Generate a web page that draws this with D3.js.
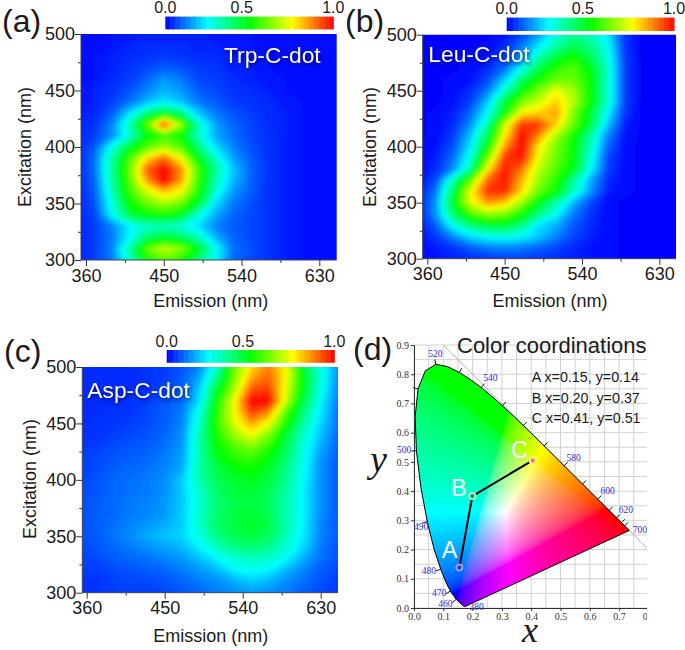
<!DOCTYPE html>
<html>
<head>
<meta charset="utf-8">
<script src="https://cdn.jsdelivr.net/npm/d3@7"></script>
<style>
  body { margin: 0; background: #fff; }
  svg { display: block; }
  text { font-family: "Liberation Sans", Arial, sans-serif; fill: #1a1a1a; }
  .serif { font-family: "Liberation Serif", serif; }
</style>
</head>
<body>
<svg id="figure" width="685" height="650"></svg>
<script>
// emission columns of every map (nm), rows run from 300 nm up to 500 nm in steps of 10
var emissionGrid = [350, 370, 390, 410, 430, 450, 470, 490, 510, 530, 550, 570, 590, 610, 630, 650];
var excitationGrid = [300, 310, 320, 330, 340, 350, 360, 370, 380, 390, 400, 410, 420, 430, 440, 450, 460, 470, 480, 490, 500];

var trpValues = [
  [.03, .06, .12, .30, .50, .58, .52, .38, .25, .10, .07, .05, .03, .02, .01, .01],
  [.03, .06, .13, .34, .60, .70, .64, .48, .27, .11, .08, .05, .03, .02, .01, .01],
  [.03, .06, .12, .25, .40, .45, .42, .32, .18, .10, .07, .05, .03, .02, .01, .01],
  [.03, .06, .13, .24, .30, .31, .28, .22, .13, .09, .07, .05, .03, .02, .01, .01],
  [.03, .07, .25, .43, .50, .52, .48, .28, .17, .10, .07, .05, .03, .02, .01, .01],
  [.03, .08, .28, .50, .60, .66, .60, .45, .22, .12, .08, .05, .03, .02, .01, .01],
  [.03, .09, .31, .55, .70, .80, .74, .52, .28, .15, .09, .05, .03, .02, .01, .01],
  [.03, .10, .34, .58, .84, 1.0, .84, .55, .33, .18, .10, .05, .03, .02, .01, .01],
  [.03, .11, .35, .60, .90, 1.0, .86, .57, .35, .20, .10, .05, .03, .02, .01, .01],
  [.03, .11, .34, .57, .78, .90, .74, .49, .30, .16, .09, .05, .03, .02, .01, .01],
  [.03, .09, .27, .46, .58, .66, .58, .38, .22, .13, .08, .05, .03, .02, .01, .01],
  [.03, .06, .14, .28, .48, .56, .50, .30, .17, .11, .07, .05, .03, .02, .01, .01],
  [.03, .05, .13, .32, .60, .95, .66, .32, .16, .10, .07, .04, .03, .02, .01, .01],
  [.02, .04, .09, .22, .38, .46, .38, .20, .12, .08, .06, .04, .03, .02, .01, .01],
  [.02, .03, .06, .11, .18, .23, .19, .12, .09, .06, .05, .04, .02, .02, .01, .01],
  [.02, .03, .05, .08, .13, .18, .15, .09, .07, .05, .04, .03, .02, .01, .01, .01],
  [.01, .02, .04, .06, .10, .15, .12, .07, .06, .04, .03, .02, .02, .01, .01, .01],
  [.01, .02, .03, .05, .07, .09, .08, .06, .05, .03, .03, .02, .01, .01, .01, .01],
  [.01, .02, .03, .04, .05, .06, .05, .04, .04, .03, .02, .02, .01, .01, .01, .01],
  [.01, .01, .02, .03, .04, .04, .04, .03, .03, .02, .02, .01, .01, .01, .01, .01],
  [.01, .01, .02, .02, .03, .03, .03, .03, .02, .02, .02, .01, .01, .01, .01, .01]
];

var leuValues = [
  [.01, .02, .03, .04, .05, .06, .06, .05, .04, .03, .02, .01, 0, 0, 0, 0],
  [.01, .03, .05, .09, .12, .13, .12, .10, .07, .04, .02, .01, 0, 0, 0, 0],
  [.01, .06, .14, .22, .26, .27, .25, .20, .13, .07, .03, .01, 0, 0, 0, 0],
  [.01, .10, .27, .39, .45, .46, .38, .22, .17, .09, .04, .01, 0, 0, 0, 0],
  [.02, .15, .40, .57, .65, .62, .52, .38, .26, .12, .05, .01, 0, 0, 0, 0],
  [.02, .15, .47, .72, .85, .80, .65, .47, .33, .18, .07, .01, 0, 0, 0, 0],
  [.02, .12, .42, .74, .95, .96, .78, .60, .50, .31, .15, .03, .01, 0, 0, 0],
  [.01, .08, .33, .60, .90, .98, .82, .64, .54, .35, .17, .04, .01, 0, 0, 0],
  [.01, .04, .14, .34, .76, .98, .88, .68, .58, .47, .26, .06, .01, 0, 0, 0],
  [.01, .03, .11, .28, .62, .95, .98, .73, .60, .50, .28, .07, .01, 0, 0, 0],
  [.01, .02, .08, .23, .50, .85, 1.0, .76, .62, .50, .31, .10, .01, 0, 0, 0],
  [0, .01, .06, .19, .42, .76, 1.0, .86, .66, .52, .34, .13, .02, 0, 0, 0],
  [0, .01, .04, .14, .33, .70, .95, .94, .80, .60, .44, .20, .03, 0, 0, 0],
  [0, .01, .03, .10, .25, .50, .76, .80, .84, .62, .45, .24, .05, 0, 0, 0],
  [0, 0, .02, .06, .20, .44, .62, .70, .80, .68, .50, .30, .06, 0, 0, 0],
  [0, 0, .01, .04, .12, .30, .50, .62, .74, .66, .50, .30, .06, 0, 0, 0],
  [0, 0, .01, .02, .07, .20, .40, .52, .60, .60, .50, .30, .06, 0, 0, 0],
  [0, 0, 0, .01, .04, .11, .26, .42, .54, .58, .48, .30, .06, 0, 0, 0],
  [0, 0, 0, .01, .02, .07, .18, .33, .44, .52, .42, .28, .06, 0, 0, 0],
  [0, 0, 0, 0, .01, .04, .12, .23, .34, .42, .37, .26, .05, 0, 0, 0],
  [0, 0, 0, 0, 0, .02, .07, .16, .28, .36, .32, .23, .05, 0, 0, 0]
];

var aspValues = [
  [.05, .05, .06, .06, .06, .07, .08, .10, .12, .14, .15, .14, .12, .09, .07, .06],
  [.05, .05, .06, .07, .07, .08, .10, .12, .14, .17, .20, .18, .14, .11, .08, .06],
  [.06, .06, .07, .08, .09, .10, .12, .15, .18, .24, .26, .24, .18, .13, .09, .07],
  [.06, .07, .09, .10, .11, .13, .15, .19, .24, .29, .31, .30, .25, .17, .11, .08],
  [.07, .08, .10, .12, .14, .16, .18, .24, .31, .37, .38, .36, .29, .21, .12, .08],
  [.07, .09, .11, .14, .17, .19, .21, .28, .37, .42, .44, .41, .32, .23, .13, .09],
  [.07, .09, .11, .13, .15, .17, .20, .30, .40, .44, .46, .43, .33, .24, .13, .09],
  [.07, .09, .10, .12, .13, .15, .20, .30, .39, .44, .45, .42, .33, .24, .14, .09],
  [.07, .09, .10, .12, .13, .15, .20, .29, .39, .43, .44, .41, .33, .24, .14, .09],
  [.07, .08, .10, .11, .12, .14, .20, .30, .40, .44, .45, .42, .34, .24, .14, .09],
  [.06, .08, .10, .11, .12, .14, .20, .33, .42, .46, .48, .44, .36, .25, .14, .09],
  [.06, .07, .09, .10, .11, .13, .17, .34, .43, .49, .51, .46, .37, .26, .14, .09],
  [.06, .07, .08, .09, .10, .12, .16, .33, .47, .54, .56, .50, .40, .27, .15, .09],
  [.05, .06, .07, .08, .09, .11, .15, .33, .50, .58, .63, .55, .42, .28, .17, .10],
  [.05, .05, .06, .07, .08, .10, .14, .33, .52, .65, .74, .63, .45, .30, .19, .10],
  [.04, .05, .05, .06, .07, .09, .13, .30, .54, .72, .84, .74, .52, .34, .21, .11],
  [.04, .04, .05, .05, .07, .09, .12, .28, .53, .74, .94, .86, .58, .38, .23, .11],
  [.04, .04, .04, .05, .06, .08, .11, .22, .50, .74, 1.0, 1.0, .70, .43, .25, .12],
  [.04, .04, .04, .04, .05, .07, .10, .20, .46, .66, .92, .94, .72, .47, .27, .13],
  [.04, .04, .04, .04, .05, .06, .09, .17, .36, .62, .84, .90, .75, .48, .28, .14],
  [.04, .04, .04, .04, .05, .06, .08, .13, .30, .60, .78, .88, .75, .45, .28, .14]
];

var emissionTicks = [360, 405, 450, 495, 540, 585, 630];
var excitationTicks = [300, 325, 350, 375, 400, 425, 450, 475, 500];
var colorbarLabels = ["0.0", "0.5", "1.0"];

// CIE 1931 spectral locus
var locusNm = [380, 400, 420, 430, 440, 450, 460, 470, 475, 480, 485, 490, 495, 500, 505, 510, 515, 520, 525, 530, 535, 540, 545, 550, 555, 560, 565, 570, 575, 580, 585, 590, 595, 600, 610, 620, 630, 640, 650, 680, 700];
var locusX = [.1741, .1733, .1714, .1689, .1644, .1566, .1440, .1241, .1096, .0913, .0687, .0454, .0235, .0082, .0039, .0139, .0389, .0743, .1142, .1547, .1929, .2296, .2658, .3016, .3373, .3731, .4087, .4441, .4788, .5125, .5448, .5752, .6029, .6270, .6658, .6915, .7079, .7190, .7260, .7347, .7347];
var locusY = [.0050, .0048, .0051, .0069, .0109, .0177, .0297, .0578, .0868, .1327, .2007, .2950, .4127, .5384, .6548, .7502, .8120, .8338, .8262, .8059, .7816, .7543, .7243, .6923, .6589, .6245, .5896, .5547, .5202, .4866, .4544, .4242, .3965, .3725, .3340, .3083, .2920, .2809, .2740, .2653, .2653];

var waveLabels = ["520", "540", "580", "600", "620", "700", "500", "490", "480", "470", "460", "380"];
var waveLabelX = [.073, .261, .545, .661, .723, .771, -.034, .024, .051, .086, .107, .214];
var waveLabelY = [.869, .786, .514, .399, .336, .266, .541, .278, .127, .050, .015, .004];

var pointNames = ["A", "B", "C"];
var pointX = [.155, .199, .405];
var pointY = [.139, .383, .505];
var pointCore = ["#3a3a9a", "#0f9a5a", "#f08a10"];
var pointRing = ["#8fa0ee", "#a8ecc8", "#ffe9a0"];
var coordLines = ["A x=0.15, y=0.14", "B x=0.20, y=0.37", "C x=0.41, y=0.51"];

var svg = d3.select("#figure");

var defs = svg.append("defs");
defs.append("filter").attr("id", "soft")
  .attr("x", "-5%").attr("y", "-5%").attr("width", "110%").attr("height", "110%")
  .append("feGaussianBlur").attr("stdDeviation", 2.2);

var color = d3.scaleLinear()
  .domain([0, .25, .5, .75, 1])
  .range(["#0000ff", "#00ffff", "#00ff00", "#ffff00", "#ff0000"])
  .clamp(true);

var panels = [
  { id: "a", values: trpValues, title: "Trp-C-dot", tag: "(a)", left: 81, right: 336.7, top: 34, bottom: 260,
    x360: 86, x630: 319.3, tagX: 2, tagY: 32, titleX: 224, titleY: 63, barL: 165.3, barR: 333.3, barT: 16.7, barB: 29.3, barText: 13,
    xLabelX: 210.7, xLabelY: 307, yLabelX: 31, yLabelY: 147 },
  { id: "b", values: leuValues, title: "Leu-C-dot", tag: "(b)", left: 422.7, right: 676, top: 34.7, bottom: 258.7,
    x360: 427.3, x630: 659.3, tagX: 345, tagY: 32, titleX: 428.3, titleY: 62, barL: 506.7, barR: 674, barT: 17.7, barB: 31, barText: 14,
    xLabelX: 550, xLabelY: 307, yLabelX: 375.5, yLabelY: 147 },
  { id: "c", values: aspValues, title: "Asp-C-dot", tag: "(c)", left: 82.3, right: 338, top: 367, bottom: 592.7,
    x360: 86.7, x630: 320.7, tagX: 4, tagY: 362, titleX: 87.3, titleY: 397.5, barL: 166.7, barR: 334.3, barT: 350, barB: 362.7, barText: 346.5,
    xLabelX: 210.7, xLabelY: 641.7, yLabelX: 35.5, yLabelY: 479 }
];

panels.forEach(drawPanel);
drawChromaticity();

function drawPanel(p) {
  var x = d3.scaleLinear().domain([360, 630]).range([p.x360, p.x630]);
  var y = d3.scaleLinear().domain([300, 500]).range([p.bottom, p.top]);

  defs.append("clipPath").attr("id", "clip-" + p.id)
    .append("rect")
    .attr("x", p.left).attr("y", p.top)
    .attr("width", p.right - p.left).attr("height", p.bottom - p.top);

  var g = svg.append("g").attr("clip-path", "url(#clip-" + p.id + ")");
  var inner = g.append("g").attr("filter", "url(#soft)");

  inner.append("rect")
    .attr("x", p.left - 10).attr("y", p.top - 10)
    .attr("width", p.right - p.left + 20).attr("height", p.bottom - p.top + 20)
    .attr("fill", color(0));

  // grid cell centres sit at index + 0.5 in contour space
  var nx = emissionGrid.length, ny = excitationGrid.length;
  var colToNm = d3.scaleLinear().domain([.5, nx - .5]).range([emissionGrid[0], emissionGrid[nx - 1]]);
  var rowToNm = d3.scaleLinear().domain([.5, ny - .5]).range([excitationGrid[0], excitationGrid[ny - 1]]);

  var contours = d3.contours().size([nx, ny]).smooth(true).thresholds(d3.range(.004, 1, .008));
  var path = d3.geoPath(d3.geoTransform({
    point: function(cx, cy) {
      this.stream.point(x(colToNm(cx)), y(rowToNm(cy)));
    }
  }));

  inner.selectAll("path")
    .data(contours(d3.merge(p.values)))
    .enter().append("path")
    .attr("d", path)
    .attr("fill", function(d) { return color(d.value + .004); });

  // axes
  var xAxis = d3.axisBottom(x).tickValues(emissionTicks).tickSize(6).tickPadding(3)
    .tickFormat(function(d) { return (d - 360) % 90 === 0 ? d : ""; });
  var gx = svg.append("g").attr("transform", "translate(0," + p.bottom + ")").call(xAxis);
  var yAxis = d3.axisLeft(y).tickValues(excitationTicks).tickSize(6).tickPadding(0)
    .tickFormat(function(d) { return (d - 300) % 50 === 0 ? d : ""; });
  var gy = svg.append("g").attr("transform", "translate(" + p.left + ",0)").call(yAxis);

  [gx, gy].forEach(function(a) {
    a.selectAll("text").style("font-size", "18px").style("font-family", "Liberation Sans");
    a.selectAll("line").attr("stroke", "#333");
    a.select(".domain").remove();
  });
  gx.selectAll(".tick line").filter(function(d) { return (d - 360) % 90 !== 0; }).attr("y2", 3);
  gy.selectAll(".tick line").filter(function(d) { return (d - 300) % 50 !== 0; }).attr("x2", -3);

  svg.append("line").attr("x1", p.left).attr("x2", p.right).attr("y1", p.bottom).attr("y2", p.bottom).attr("stroke", "#444");
  svg.append("line").attr("x1", p.left).attr("x2", p.left).attr("y1", p.top).attr("y2", p.bottom).attr("stroke", "#444");

  svg.append("text").attr("x", p.xLabelX).attr("y", p.xLabelY)
    .attr("text-anchor", "middle").style("font-size", "18px").text("Emission (nm)");
  svg.append("text")
    .attr("transform", "translate(" + p.yLabelX + "," + p.yLabelY + ") rotate(-90)")
    .attr("text-anchor", "middle").style("font-size", "18px").text("Excitation (nm)");

  svg.append("text").attr("x", p.tagX).attr("y", p.tagY).style("font-size", "32px").text(p.tag);

  svg.append("text").attr("x", p.titleX).attr("y", p.titleY)
    .style("font-size", "22.8px").style("fill", "#fff")
    .style("filter", "drop-shadow(1px 2px 2px rgba(0,0,90,.8))")
    .text(p.title);

  // colour bar
  var barX = d3.scaleLinear().domain([0, 1]).range([p.barL, p.barR]);
  svg.selectAll(null)
    .data(d3.range(0, 1, .005))
    .enter().append("rect")
    .attr("x", function(d) { return barX(d); })
    .attr("y", p.barT)
    .attr("width", barX(.005) - barX(0) + .5)
    .attr("height", p.barB - p.barT)
    .attr("fill", function(d) { return color(d); });

  svg.selectAll(null)
    .data(colorbarLabels)
    .enter().append("text")
    .attr("x", function(d) { return d === "0.5" ? barX(.455) : barX(+d); })
    .attr("y", p.barText)
    .attr("text-anchor", "middle")
    .style("font-size", "16px")
    .text(function(d) { return d; });
}

function xyToRgb(cx, cy) {
  var X = cx / cy, Z = (1 - cx - cy) / cy;
  var r = 3.2406 * X - 1.5372 - .4986 * Z;
  var g = -.9689 * X + 1.8758 + .0415 * Z;
  var b = .0557 * X - .204 + 1.057 * Z;
  r = Math.max(r, 0); g = Math.max(g, 0); b = Math.max(b, 0);
  var m = Math.max(r, g, b) || 1;
  return [r, g, b].map(function(v) {
    v = v / m;
    return 255 * (v <= .0031308 ? 12.92 * v : 1.055 * Math.pow(v, 1 / 2.4) - .055);
  });
}

function drawChromaticity() {
  var x = d3.scaleLinear().domain([0, .8]).range([414, 648.4]);
  var y = d3.scaleLinear().domain([0, .9]).range([608, 345]);
  var line = d3.line().x(function(i) { return x(locusX[i]); }).y(function(i) { return y(locusY[i]); });
  var idx = d3.range(locusNm.length);
  var right = 647;

  defs.append("clipPath").attr("id", "clip-cie").append("rect")
    .attr("x", 395).attr("y", 335).attr("width", right - 395).attr("height", 290);
  defs.append("clipPath").attr("id", "clip-locus").append("path").attr("d", line(idx) + "Z");

  var g = svg.append("g").attr("clip-path", "url(#clip-cie)");

  // grid every 0.05
  var gridX = d3.range(0, .8001, .05), gridY = d3.range(0, .9001, .05);
  g.selectAll(null).data(gridX).enter().append("line")
    .attr("x1", x).attr("x2", x).attr("y1", y(0)).attr("y2", y(.9))
    .attr("stroke", "#d2d2d2");
  g.selectAll(null).data(gridY).enter().append("line")
    .attr("x1", x(0)).attr("x2", right).attr("y1", y).attr("y2", y)
    .attr("stroke", "#d2d2d2");

  g.append("line")
    .attr("x1", x(.1)).attr("y1", y(.9)).attr("x2", x(.8)).attr("y2", y(.2))
    .attr("stroke", "#b5b5b5");

  // gamut fill
  var w = 240, h = 250;
  var canvas = document.createElement("canvas");
  canvas.width = w; canvas.height = h;
  var ctx = canvas.getContext("2d");
  var img = ctx.createImageData(w, h);
  for (var j = 0; j < h; j++) {
    for (var i = 0; i < w; i++) {
      var c = xyToRgb(x.invert(x(0) + i + .5), Math.max(y.invert(y(.86) + j + .5), .001));
      var k = 4 * (j * w + i);
      img.data[k] = c[0]; img.data[k + 1] = c[1]; img.data[k + 2] = c[2]; img.data[k + 3] = 255;
    }
  }
  ctx.putImageData(img, 0, 0);
  g.append("g").attr("clip-path", "url(#clip-locus)").append("image")
    .attr("x", x(0)).attr("y", y(.86)).attr("width", w).attr("height", h)
    .attr("href", canvas.toDataURL());

  // small wavelength ticks on the outer side of the curve
  var tickIdx = idx.filter(function(i) { return locusNm[i] >= 460 && locusNm[i] <= 640 && locusNm[i] % 10 === 0; });
  g.selectAll(null).data(tickIdx).enter().append("line")
    .each(function(i) {
      var dx = x(locusX[i + 1]) - x(locusX[i - 1]), dy = y(locusY[i + 1]) - y(locusY[i - 1]);
      var len = Math.sqrt(dx * dx + dy * dy);
      d3.select(this)
        .attr("x1", x(locusX[i])).attr("y1", y(locusY[i]))
        .attr("x2", x(locusX[i]) + dy / len * 5).attr("y2", y(locusY[i]) - dx / len * 5);
    })
    .attr("stroke", "#111");

  g.append("path").attr("d", line(idx) + "Z").attr("fill", "none").attr("stroke", "#000").attr("stroke-width", 1);

  // axes
  var gx = g.append("g").attr("transform", "translate(0,608)")
    .call(d3.axisBottom(x).tickValues(d3.range(0, .8001, .1)).tickSize(3).tickPadding(2).tickFormat(d3.format(".1f")));
  var gy = g.append("g").attr("transform", "translate(414,0)")
    .call(d3.axisLeft(y).tickValues(d3.range(0, .9001, .1)).tickSize(3).tickPadding(2).tickFormat(d3.format(".1f")));
  [gx, gy].forEach(function(a) {
    a.selectAll("text").attr("class", "serif").style("font-size", "10px").style("fill", "#333");
    a.selectAll("line").attr("stroke", "#333");
    a.select(".domain").attr("stroke", "#333");
  });

  g.selectAll(null).data(waveLabels).enter().append("text")
    .attr("class", "serif")
    .attr("x", function(d, i) { return x(waveLabelX[i]); })
    .attr("y", function(d, i) { return y(waveLabelY[i]); })
    .attr("text-anchor", "middle").attr("dominant-baseline", "central")
    .style("font-size", "9.5px").style("fill", "#2a2ae0")
    .text(function(d) { return d; });

  // connecting line A-B-C
  svg.append("path")
    .attr("d", d3.line().x(function(i) { return x(pointX[i]); }).y(function(i) { return y(pointY[i]); })([0, 1, 2]))
    .attr("fill", "none").attr("stroke", "#000").attr("stroke-width", 2);

  svg.selectAll(null).data(pointNames).enter().append("circle")
    .attr("cx", function(d, i) { return x(pointX[i]); })
    .attr("cy", function(d, i) { return y(pointY[i]); })
    .attr("r", 3)
    .attr("fill", function(d, i) { return pointCore[i]; })
    .attr("stroke", function(d, i) { return pointRing[i]; })
    .attr("stroke-width", 2);

  var letterPos = [[441.7, 558], [451, 496], [511, 458.3]];
  svg.selectAll(null).data(pointNames).enter().append("text")
    .attr("x", function(d, i) { return letterPos[i][0]; })
    .attr("y", function(d, i) { return letterPos[i][1]; })
    .style("font-size", "23.5px").style("fill", "#fff")
    .text(function(d) { return d; });

  svg.append("text").attr("x", 457).attr("y", 353).style("font-size", "22px").text("Color coordinations");

  svg.selectAll(null).data(coordLines).enter().append("text")
    .attr("x", 531.7)
    .attr("y", function(d, i) { return 381.7 + i * 20.8; })
    .style("font-size", "14.3px")
    .text(function(d) { return d; });

  svg.append("text").attr("x", 353).attr("y", 360).style("font-size", "32px").text("(d)");

  svg.append("text").attr("class", "serif").attr("x", 370).attr("y", 472)
    .style("font-size", "38px").style("font-style", "italic").text("y");
  svg.append("text").attr("class", "serif").attr("x", 522).attr("y", 641.5)
    .style("font-size", "36px").style("font-style", "italic").text("x");
}
</script>
</body>
</html>
